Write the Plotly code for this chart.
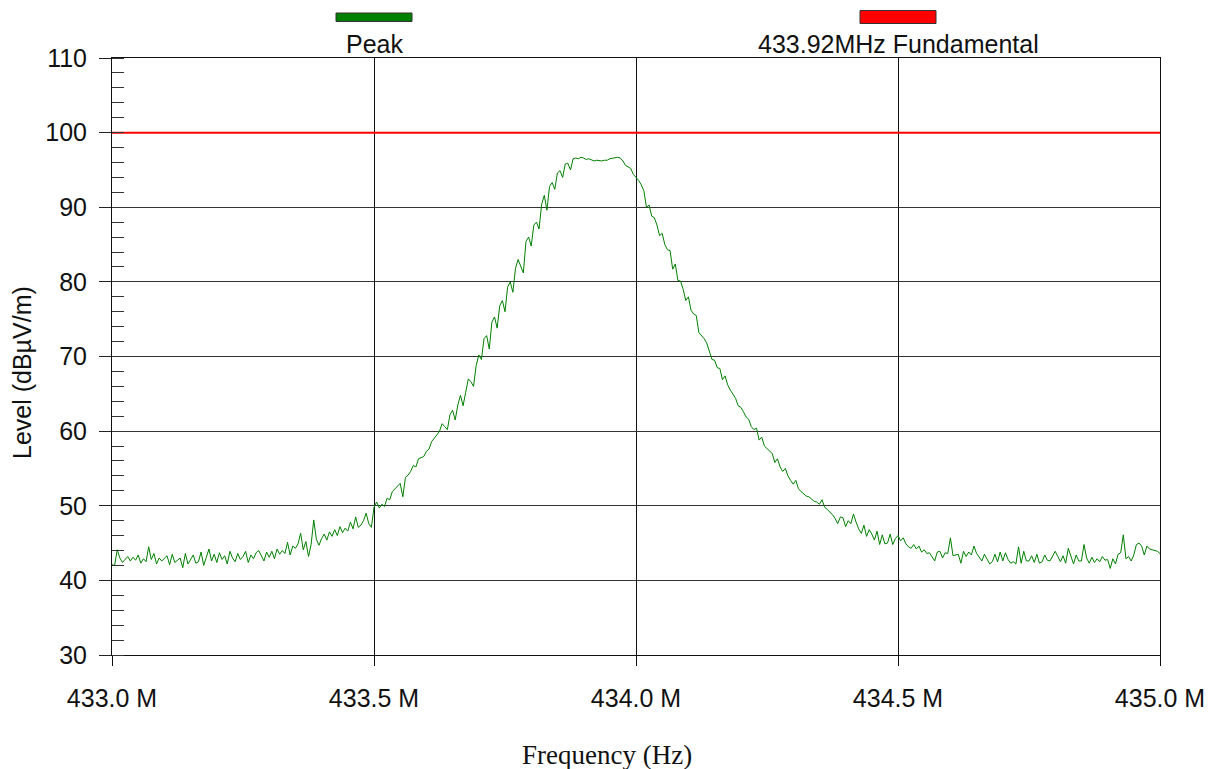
import plotly.graph_objects as go

# ---- data ----
freq_start_hz = 433.0e6
freq_step_hz = 5.0e3

peak_dbuv = [
    42.1, 42.0, 44.1, 43.0, 42.4, 42.8, 43.2, 42.6, 43.1, 42.7, 43.4, 42.3, 42.9, 42.5, 44.5, 42.8, 43.6, 42.2, 43.0, 42.6,
    42.9, 43.3, 42.1, 43.5, 42.4, 42.7, 43.0, 41.7, 43.6, 42.2, 42.9, 43.4, 42.3, 42.5, 43.8, 42.0, 43.1, 44.2, 42.6, 43.5,
    42.4, 43.7, 42.8, 43.3, 42.2, 43.9, 43.0, 42.5, 43.6, 42.8, 43.2, 43.9, 42.4, 43.4, 42.9, 43.7, 44.0, 43.3, 42.6, 43.8,
    43.1, 43.9, 42.9, 44.2, 43.5, 44.0, 43.6, 45.1, 43.4, 44.6, 44.3, 44.9, 46.3, 44.1, 45.2, 43.2, 44.8, 48.1, 45.5, 44.7,
    45.6, 46.2, 45.4, 46.5, 45.9, 46.8, 46.0, 47.2, 46.4, 47.0, 46.6, 47.8, 46.9, 48.5, 47.1, 47.4, 48.0, 49.0, 47.6, 47.1,
    49.8, 50.5, 49.7, 50.2, 49.9, 51.0, 50.8, 51.9, 52.3, 52.6, 53.0, 51.2, 53.8, 54.1, 54.6, 55.4, 55.2, 56.3, 56.5, 56.6,
    57.3, 57.6, 58.6, 59.0, 59.5, 60.0, 61.0, 60.6, 60.2, 62.2, 62.8, 61.5, 63.5, 64.8, 63.4, 65.2, 67.0, 66.6, 66.0, 68.8,
    70.2, 69.6, 72.4, 72.8, 71.0, 74.6, 75.3, 73.8, 76.8, 77.5, 76.0, 79.3, 80.0, 78.6, 81.8, 83.0, 82.2, 81.2, 85.4, 86.0,
    84.8, 87.6, 88.0, 87.1, 90.4, 91.6, 89.6, 92.8, 93.3, 92.4, 94.6, 94.9, 94.0, 95.8, 95.9, 95.0, 96.5, 96.6, 96.5, 96.7,
    96.6, 96.4, 96.5, 96.3, 96.2, 96.3, 96.2, 96.2, 96.3, 96.3, 96.5, 96.6, 96.7, 96.7, 96.6, 96.2, 95.6, 95.4, 95.2, 94.4,
    94.0, 93.6, 93.0, 92.2, 90.0, 90.3, 88.8, 88.6, 87.6, 86.2, 86.5, 85.0, 84.3, 84.2, 81.7, 82.4, 80.2, 80.1, 79.0, 77.5,
    78.0, 76.2, 75.7, 75.5, 73.2, 72.8, 72.4, 71.8, 70.6, 69.6, 69.5, 68.5, 68.4, 66.9, 67.4, 66.2, 65.5, 64.9, 64.4, 63.4,
    63.2, 62.6, 61.9, 61.6, 60.6, 60.2, 60.4, 58.8, 59.2, 58.0, 57.7, 57.4, 57.0, 55.8, 56.3, 55.2, 54.6, 55.0, 54.0, 53.4,
    52.9, 53.4, 52.3, 51.9, 51.6, 51.3, 51.2, 50.9, 50.6, 50.5, 50.2, 50.8, 49.8, 49.5, 49.2, 48.8, 48.3, 47.6, 48.5, 48.4,
    47.2, 48.0, 47.6, 48.9, 47.8, 46.9, 46.3, 47.4, 45.9, 46.8, 46.2, 45.4, 46.6, 44.8, 46.1, 44.9, 45.0, 46.2, 44.8, 45.6,
    46.0, 45.3, 45.7, 44.9, 44.5, 44.3, 44.8, 44.2, 44.6, 43.8, 44.1, 43.6, 43.7, 43.2, 42.6, 43.8, 43.9, 43.0, 43.7, 43.6,
    45.7, 43.3, 43.4, 43.5, 42.3, 43.9, 43.2, 43.8, 43.4, 44.6, 43.6, 43.1, 42.6, 43.5, 42.9, 42.2, 42.5, 43.5, 42.5, 43.8,
    42.6, 43.7, 42.8, 42.3, 42.5, 42.2, 44.5, 42.3, 43.9, 42.6, 42.6, 43.3, 42.4, 43.5, 42.3, 42.5, 43.4, 42.7, 42.6, 43.2,
    43.9, 43.2, 42.5, 43.3, 42.3, 44.3, 43.2, 42.2, 43.4, 42.6, 42.6, 44.8, 43.0, 42.3, 43.1, 42.4, 42.9, 42.5, 43.2, 42.7,
    42.8, 41.6, 42.9, 42.2, 43.5, 43.7, 46.1, 42.9, 43.2, 42.6, 43.4, 44.8, 45.0, 44.6, 43.4, 44.6, 44.2, 44.1, 44.0, 43.9,
    43.6,
]

limit_name = "433.92MHz Fundamental"
limit_freq_hz = [433.0e6, 435.0e6]
limit_dbuv = [100.0, 100.0]

peak_name = "Peak"

x_tickvals = [433.0e6, 433.5e6, 434.0e6, 434.5e6, 435.0e6]
x_ticktext = ["433.0 M", "433.5 M", "434.0 M", "434.5 M", "435.0 M"]
y_tickvals = [30, 40, 50, 60, 70, 80, 90, 100, 110]

freq_hz = [freq_start_hz + i * freq_step_hz for i in range(len(peak_dbuv))]

# ---- figure ----
SANS = "Liberation Sans, Arial, sans-serif"
SERIF = "Liberation Serif, Times New Roman, serif"
PEAK_COLOR = "#008000"
LIMIT_COLOR = "#ff0000"
FS = 25

fig = go.Figure()
fig.add_trace(go.Scatter(x=limit_freq_hz, y=limit_dbuv, mode="lines", name=limit_name,
                         line=dict(color=LIMIT_COLOR, width=2), hoverinfo="skip"))
fig.add_trace(go.Scatter(x=freq_hz, y=peak_dbuv, mode="lines", name=peak_name,
                         line=dict(color=PEAK_COLOR, width=1)))

fig.update_layout(
    width=1216, height=769,
    margin=dict(l=112, r=56, t=58, b=114),
    paper_bgcolor="white", plot_bgcolor="white",
    showlegend=False,
    font=dict(family=SANS, size=FS, color="#111"),
)

fig.update_xaxes(
    range=[433.0e6, 435.0e6],
    tickmode="array", tickvals=x_tickvals, ticktext=x_ticktext,
    ticks="outside", ticklen=10, tickcolor="#111", tickwidth=1,
    ticklabelstandoff=11,
    tickfont=dict(family=SANS, size=FS, color="#111"),
    showgrid=True, gridcolor="#111", gridwidth=1,
    showline=True, linecolor="#111", linewidth=1, mirror=True,
    zeroline=False,
)
fig.update_yaxes(
    range=[30, 110],
    tickmode="array", tickvals=y_tickvals,
    ticks="outside", ticklen=12, tickcolor="#222", tickwidth=1,
    ticklabelstandoff=7,
    tickfont=dict(family=SANS, size=FS, color="#111"),
    minor=dict(dtick=2, ticks="inside", ticklen=12, tickcolor="#333", tickwidth=1, showgrid=False),
    showgrid=True, gridcolor="#333", gridwidth=1,
    showline=True, linecolor="#111", linewidth=1, mirror=True,
    zeroline=False,
)

# legend patches and labels above the plot
fig.add_shape(type="rect", xref="paper", yref="paper",
              x0=(336 - 112) / 1048, x1=(412 - 112) / 1048,
              y0=(655 - 21.5) / 597, y1=(655 - 13) / 597,
              fillcolor=PEAK_COLOR, line=dict(color="#333", width=1))
fig.add_shape(type="rect", xref="paper", yref="paper",
              x0=(860 - 112) / 1048, x1=(936 - 112) / 1048,
              y0=(655 - 23.5) / 597, y1=(655 - 10.5) / 597,
              fillcolor=LIMIT_COLOR, line=dict(color="#333", width=1))
fig.add_annotation(text=peak_name, xref="paper", yref="paper", x=0.25, y=(655 - 44) / 597,
                   showarrow=False, xanchor="center", yanchor="middle",
                   font=dict(family=SANS, size=FS, color="#111"))
fig.add_annotation(text=limit_name, xref="paper", yref="paper", x=0.75, y=(655 - 44) / 597,
                   showarrow=False, xanchor="center", yanchor="middle",
                   font=dict(family=SANS, size=FS, color="#111"))

# axis titles
fig.add_annotation(text="Level (dBµV/m)", xref="paper", yref="paper",
                   x=(22 - 112) / 1048, y=(655 - 373) / 597, textangle=-90,
                   showarrow=False, xanchor="center", yanchor="middle",
                   font=dict(family=SANS, size=FS, color="#111"))
fig.add_annotation(text="Frequency (Hz)", xref="paper", yref="paper",
                   x=(607 - 112) / 1048, y=(655 - 755) / 597,
                   showarrow=False, xanchor="center", yanchor="middle",
                   font=dict(family=SERIF, size=27, color="#111"))

fig.write_html(
    "out.html",
    config={"displayModeBar": False},
    post_script="document.body.style.margin='0';document.body.style.overflow='hidden';",
)
